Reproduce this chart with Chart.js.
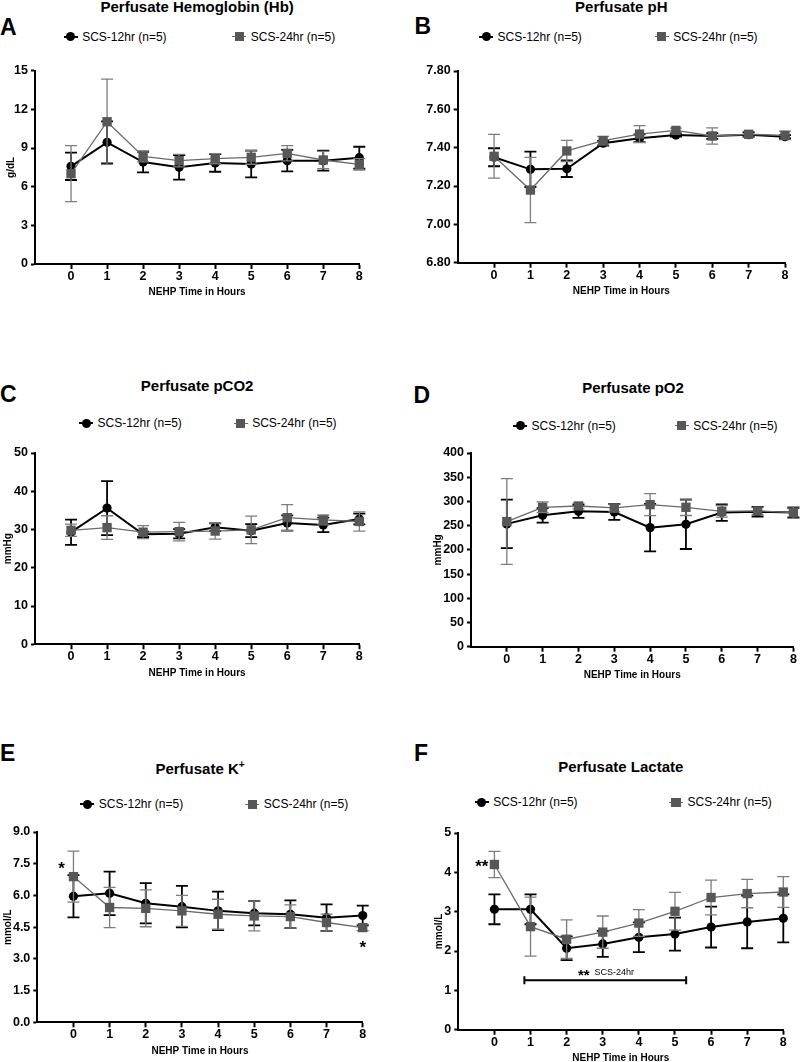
<!DOCTYPE html>
<html><head><meta charset="utf-8">
<script src="https://cdn.jsdelivr.net/npm/chart.js@4.4.1/dist/chart.umd.min.js"></script>
<style>
html,body{margin:0;padding:0;background:#fff;width:800px;height:1062px;overflow:hidden;position:relative;font-family:'Liberation Sans',Arial,sans-serif;}
canvas{position:absolute;}
.t{position:absolute;font-weight:bold;font-size:15px;line-height:15px;white-space:nowrap;transform:translateX(-50%);color:#000;}
.L{position:absolute;font-weight:bold;font-size:23px;line-height:23px;color:#000;}
.lg{position:absolute;font-size:12px;line-height:12px;white-space:nowrap;color:#000;}
.mk{position:absolute;width:14px;height:10px;}
.mk i{position:absolute;display:block;}
</style></head><body>
<script>
// ---------- data ----------
const hours = [0, 1, 2, 3, 4, 5, 6, 7, 8];
const seriesNames = ['SCS-12hr (n=5)', 'SCS-24hr (n=5)'];
const xTitle = 'NEHP Time in Hours';

const hb12    = [7.58, 9.44, 7.91, 7.50, 7.84, 7.76, 8.02, 8.02, 8.25];
const hb12Err = [1.06, 1.63, 0.80, 0.96, 0.68, 1.04, 0.83, 0.78, 0.85];
const hb24    = [7.01, 11.04, 8.35, 8.02, 8.17, 8.28, 8.59, 8.07, 7.73];
const hb24Err = [2.17, 3.31, 0.42, 0.49, 0.39, 0.54, 0.59, 0.67, 0.44];

const ph12    = [7.350, 7.287, 7.290, 7.423, 7.449, 7.466, 7.461, 7.468, 7.457];
const ph12Err = [0.047, 0.092, 0.043, 0.012, 0.020, 0.008, 0.015, 0.012, 0.008];
const ph24    = [7.355, 7.179, 7.383, 7.437, 7.471, 7.490, 7.461, 7.470, 7.464];
const ph24Err = [0.114, 0.170, 0.055, 0.022, 0.044, 0.012, 0.042, 0.015, 0.022];

const co12    = [29.3, 35.6, 28.75, 28.9, 30.6, 29.7, 31.7, 31.2, 32.75];
const co12Err = [3.3, 7.05, 0.7, 1.2, 1.0, 1.7, 2.0, 1.9, 1.4];
const co24    = [29.8, 30.5, 29.3, 29.45, 29.6, 29.9, 33.1, 32.5, 32.1];
const co24Err = [1.6, 3.1, 1.7, 2.4, 2.1, 3.6, 3.4, 1.3, 2.5];

const o12    = [253.6, 271.3, 279.6, 278.2, 245.9, 252.8, 276.9, 278.9, 276.9];
const o12Err = [50, 15, 13.5, 16.5, 49, 51, 17, 10, 10];
const o24    = [258.4, 287.9, 290.6, 286.5, 293.4, 287.9, 279.6, 280.3, 276.9];
const o24Err = [88.5, 11, 6, 8, 22.7, 17, 12, 7, 12];

const k12    = [5.96, 6.10, 5.63, 5.47, 5.27, 5.16, 5.11, 4.95, 5.05];
const k12Err = [1.0, 1.03, 0.95, 0.98, 0.91, 0.58, 0.66, 0.63, 0.47];
const k24    = [6.89, 5.43, 5.39, 5.27, 5.11, 5.03, 5.00, 4.72, 4.48];
const k24Err = [1.21, 0.95, 0.87, 0.73, 0.71, 0.71, 0.55, 0.40, 0.15];

const lac12    = [3.06, 3.06, 2.07, 2.18, 2.35, 2.43, 2.61, 2.74, 2.83];
const lac12Err = [0.38, 0.38, 0.30, 0.33, 0.38, 0.42, 0.52, 0.67, 0.61];
const lac24    = [4.20, 2.62, 2.30, 2.48, 2.71, 3.01, 3.36, 3.46, 3.50];
const lac24Err = [0.335, 0.75, 0.49, 0.41, 0.34, 0.48, 0.44, 0.36, 0.39];

// significance marks (data coordinates)
const kStars = [{x: -0.33, y: 7.47, t: '*'}, {x: 8, y: 3.74, t: '*'}];
const lacStars = [{x: -0.35, y: 4.26, t: '**'}];
const lacBracket = {x1: 0.83, x2: 5.31, y: 1.26, labelX: 3.09, labelY: 1.47, mark: '**', label: 'SCS-24hr'};

// ---------- layout ----------
const FAM = "'Liberation Sans', Arial, sans-serif";
Chart.defaults.font.family = FAM;

const panels = [
  {letter:'A', title:'Perfusate Hemoglobin (Hb)', yTitle:'g/dL', s12:hb12, e12:hb12Err, s24:hb24, e24:hb24Err,
   yMin:0, yMax:15, yStep:3, dec:0,
   geo:{col:0, L:35, R:359.3, T:70.7, B:264, yTitleX:11.7, titleY:6, letterXY:[0,26.7], legendY:36.7, m:[70.7,239.3]}},
  {letter:'B', title:'Perfusate pH', yTitle:'', s12:ph12, e12:ph12Err, s24:ph24, e24:ph24Err,
   yMin:6.8, yMax:7.8, yStep:0.2, dec:2,
   geo:{col:400, L:457.7, R:785, T:71, B:262.7, yTitleX:0, titleY:6, letterXY:[414.5,25.8], legendY:36.7, m:[486,661.7]}},
  {letter:'C', title:'Perfusate pCO2', yTitle:'mmHg', s12:co12, e12:co12Err, s24:co24, e24:co24Err,
   yMin:0, yMax:50, yStep:10, dec:0,
   geo:{col:0, L:35, R:359.3, T:453, B:644.3, yTitleX:8.3, titleY:385.8, letterXY:[0,394], legendY:423.3, m:[86,240.7]}},
  {letter:'D', title:'Perfusate pO2', yTitle:'mmHg', s12:o12, e12:o12Err, s24:o24, e24:o24Err,
   yMin:0, yMax:400, yStep:50, dec:0,
   geo:{col:400, L:471, R:795, T:453, B:646.7, yTitleX:438.3, titleY:387, letterXY:[413.5,395], legendY:425.7, m:[520,681.7]}},
  {letter:'E', title:'Perfusate K<span style="font-size:10px;position:relative;top:-6px">+</span>', yTitle:'mmol/L', s12:k12, e12:k12Err, s24:k24, e24:k24Err,
   yMin:0, yMax:9, yStep:1.5, dec:1, annot:{stars:kStars},
   geo:{col:0, L:37.3, R:362.7, T:832, B:1022.3, yTitleX:8.3, titleY:768.5, letterXY:[0,753.3], legendY:804.3, m:[87.3,252.3]}},
  {letter:'F', title:'Perfusate Lactate', yTitle:'mmol/L', s12:lac12, e12:lac12Err, s24:lac24, e24:lac24Err,
   yMin:0, yMax:5, yStep:1, dec:0, annot:{stars:lacStars, bracket:lacBracket},
   geo:{col:400, L:458.3, R:783.3, T:833, B:1029.7, yTitleX:439.3, titleY:766.5, letterXY:[414,753.3], legendY:802.3, m:[481.7,676]}}
];

const errPlugin = {
  id: 'errbars',
  beforeDatasetDraw(chart, args) {
    const ds = chart.data.datasets[args.index];
    if (!ds.errorBars) return;
    const ctx = chart.ctx, ys = chart.scales.y;
    ctx.save();
    ctx.strokeStyle = ds.errColor; ctx.lineWidth = ds.errWidth;
    args.meta.data.forEach((pt, i) => {
      const v = ds.data[i].y, e = ds.errorBars[i];
      const top = ys.getPixelForValue(v + e), bot = ys.getPixelForValue(v - e);
      ctx.beginPath();
      ctx.moveTo(pt.x, top); ctx.lineTo(pt.x, bot);
      ctx.moveTo(pt.x - 6, top); ctx.lineTo(pt.x + 6, top);
      ctx.moveTo(pt.x - 6, bot); ctx.lineTo(pt.x + 6, bot);
      ctx.stroke();
    });
    ctx.restore();
  }
};

const annotPlugin = {
  id: 'annot',
  afterDatasetsDraw(chart, args, opts) {
    const ctx = chart.ctx, xs = chart.scales.x, ys = chart.scales.y;
    ctx.save();
    ctx.fillStyle = '#000'; ctx.strokeStyle = '#000';
    ctx.textBaseline = 'alphabetic';
    const stars = opts.stars || [];
    stars.forEach(s => {
      const px = xs.getPixelForValue(s.x), py = ys.getPixelForValue(s.y);
      ctx.font = 'bold 17px ' + FAM; ctx.textAlign = 'center';
      ctx.fillText(s.t, px, py + 17 * 0.57);
    });
    const b = opts.bracket;
    if (b) {
      const x1 = xs.getPixelForValue(b.x1), x2 = xs.getPixelForValue(b.x2), y = ys.getPixelForValue(b.y);
      ctx.lineWidth = 2;
      ctx.beginPath();
      ctx.moveTo(x1, y); ctx.lineTo(x2, y);
      ctx.moveTo(x1, y - 4); ctx.lineTo(x1, y + 4);
      ctx.moveTo(x2, y - 4); ctx.lineTo(x2, y + 4);
      ctx.stroke();
      const lx = xs.getPixelForValue(b.labelX), ly = ys.getPixelForValue(b.labelY);
      ctx.textAlign = 'left';
      ctx.font = 'bold 15px ' + FAM; const w1 = ctx.measureText(b.mark).width;
      ctx.font = '9px ' + FAM; const w2 = ctx.measureText('  ' + b.label).width;
      const sx = lx - (w1 + w2) / 2;
      ctx.font = 'bold 15px ' + FAM; ctx.fillText(b.mark, sx, ly + 15 * 0.57);
      ctx.font = '9px ' + FAM; ctx.fillText('  ' + b.label, sx + w1, ly + 9 * 0.36);
    }
    ctx.restore();
  }
};

function addDiv(cls, html, left, top) {
  const d = document.createElement('div');
  d.className = cls; d.innerHTML = html;
  d.style.left = left + 'px'; d.style.top = top + 'px';
  document.body.appendChild(d);
  return d;
}

function legendMarker(x, y, kind) {
  const d = document.createElement('div');
  d.className = 'mk';
  d.style.left = (x - 7) + 'px'; d.style.top = (y - 5) + 'px';
  if (kind === 0) {
    d.innerHTML = '<i style="left:0;top:4px;width:14px;height:2px;background:#000"></i>' +
                  '<i style="left:2.5px;top:0.5px;width:9px;height:9px;border-radius:50%;background:#000"></i>';
  } else {
    d.innerHTML = '<i style="left:0;top:4.4px;width:14px;height:1.3px;background:#6a6a6a"></i>' +
                  '<i style="left:2.4px;top:0.4px;width:9.2px;height:9.2px;background:#575757"></i>';
  }
  document.body.appendChild(d);
}

function buildPanel(p) {
  const g = p.geo;
  const X0 = g.col, W = 400;
  const Y0 = Math.floor(g.T) - 14;
  const H = Math.ceil(g.B) + 36 - Y0;
  const xAxisH = Y0 + H - g.B;
  const yAxisW = g.L - X0;

  // HTML title, letter, legend
  addDiv('t', p.title, (g.L + g.R) / 2, g.titleY - 7.33);
  addDiv('L', p.letter, g.letterXY[0], g.letterXY[1] - 11.2);
  [0, 1].forEach(k => {
    legendMarker(g.m[k], g.legendY, k);
    addDiv('lg', seriesNames[k], g.m[k] + 11.5, g.legendY - 5.9);
  });

  const cv = document.createElement('canvas');
  cv.width = W; cv.height = H;
  cv.style.left = X0 + 'px'; cv.style.top = Y0 + 'px';
  cv.style.width = W + 'px'; cv.style.height = H + 'px';
  document.body.appendChild(cv);

  const tickFont = {family: FAM, size: 12.5, weight: 'bold'};
  const titleFont = {family: FAM, size: 10, weight: 'bold'};
  const gridCfg = {display: true, drawOnChartArea: false, drawTicks: true, tickWidth: 2, tickColor: '#000'};

  new Chart(cv, {
    type: 'line',
    data: {
      datasets: [
        {label: seriesNames[0], data: hours.map((h, i) => ({x: h, y: p.s12[i]})),
         errorBars: p.e12, errColor: '#000', errWidth: 1.8,
         borderColor: '#000', borderWidth: 2, pointStyle: 'circle', pointRadius: 4.6,
         pointBackgroundColor: '#000', pointBorderColor: '#000', pointBorderWidth: 0,
         order: 1, clip: false, tension: 0},
        {label: seriesNames[1], data: hours.map((h, i) => ({x: h, y: p.s24[i]})),
         errorBars: p.e24, errColor: '#7d7d7d', errWidth: 1.3,
         borderColor: '#6a6a6a', borderWidth: 1.3, pointStyle: 'rect', pointRadius: 6.6,
         pointBackgroundColor: '#575757', pointBorderColor: '#575757', pointBorderWidth: 0,
         order: 0, clip: false, tension: 0}
      ]
    },
    options: {
      responsive: false, animation: false, devicePixelRatio: 1,
      events: [],
      layout: {padding: {left: 0, top: g.T - Y0, right: X0 + W - g.R, bottom: 0}},
      plugins: {legend: {display: false}, title: {display: false}, tooltip: {enabled: false},
                annot: p.annot || {}},
      scales: {
        x: {
          type: 'linear', min: -1, max: 8,
          afterBuildTicks: s => { s.ticks = s.ticks.filter(t => t.value >= 0 && Math.abs(t.value - Math.round(t.value)) < 1e-6); },
          afterFit: s => { s.height = xAxisH; },
          ticks: {stepSize: 1, font: tickFont, color: '#000', padding: 0, maxRotation: 0, autoSkip: false,
                  callback: v => String(Math.round(v))},
          grid: Object.assign({tickLength: 5}, gridCfg),
          border: {display: true, color: '#000', width: 2},
          title: {display: true, text: xTitle, font: titleFont, color: '#000', padding: {top: 0, bottom: 2}}
        },
        y: {
          min: p.yMin, max: p.yMax,
          afterFit: s => { s.width = yAxisW; },
          ticks: {stepSize: p.yStep, font: tickFont, color: '#000', padding: 3,
                  callback: v => Number(v).toFixed(p.dec)},
          grid: Object.assign({tickLength: 4}, gridCfg),
          border: {display: true, color: '#000', width: 2},
          title: {display: !!p.yTitle, text: p.yTitle, font: titleFont, color: '#000',
                  padding: {top: Math.max(0, g.yTitleX - X0 - 6), bottom: 0}}
        }
      }
    },
    plugins: [errPlugin, annotPlugin]
  });
}

panels.forEach(buildPanel);
</script>
</body></html>
